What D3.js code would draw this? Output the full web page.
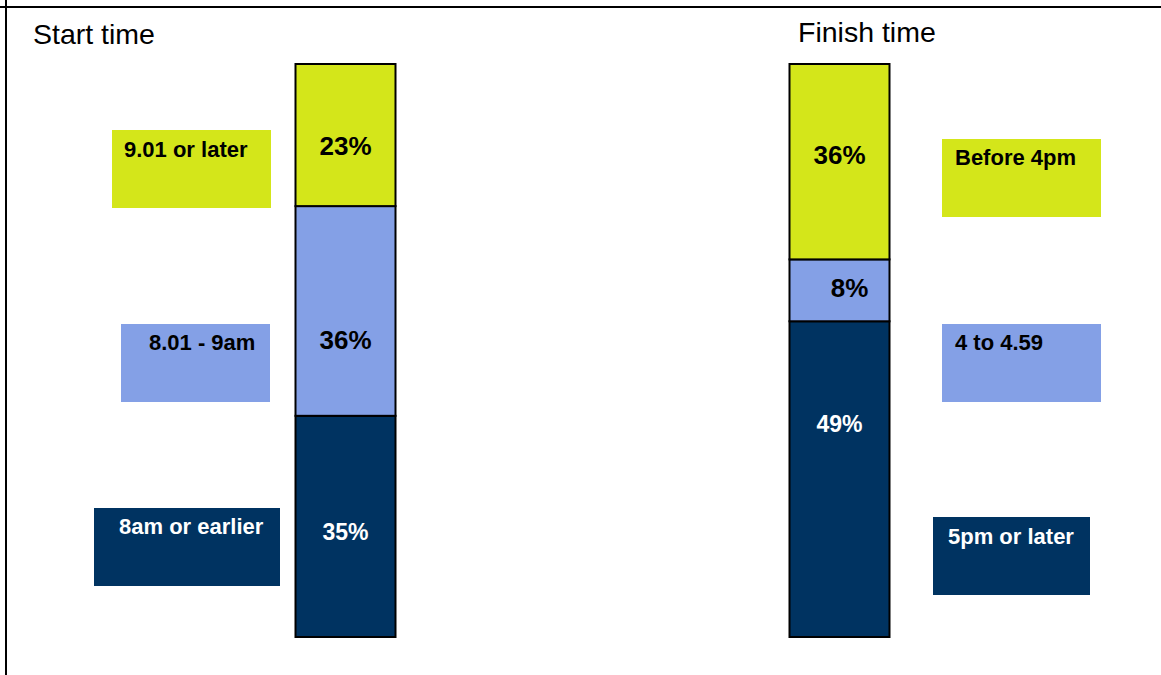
<!DOCTYPE html>
<html>
<head>
<meta charset="utf-8">
<script src="https://cdn.jsdelivr.net/npm/d3@7"></script>
<style>
  html, body { margin: 0; padding: 0; background: #fff; }
  svg { display: block; }
  text { font-family: "Liberation Sans", Arial, sans-serif; }
</style>
</head>
<body>
<svg id="chart" width="1161" height="675"></svg>
<script>
// ---- data ----
const panels = ["Start time", "Finish time"];
const startCategories = ["8am or earlier", "8.01 - 9am", "9.01 or later"];
const finishCategories = ["5pm or later", "4 to 4.59", "Before 4pm"];
const startValues = [35, 36, 23];      // displayed percentages
const finishValues = [49, 8, 36];
const startShares = [38.6, 36.6, 24.8]; // segment sizes as drawn (share of bar)
const finishShares = [55.1, 10.8, 34.1];
const segmentColors = ["#003361", "#84A0E6", "#D4E61A"];
const labelColors = ["#ffffff", "#000000", "#000000"];

// ---- layout ----
const W = 1161, H = 675;
const svg = d3.select("#chart");

// frame lines
svg.append("line").attr("x1", 0).attr("x2", W).attr("y1", 7).attr("y2", 7)
  .attr("stroke", "#000").attr("stroke-width", 2);
svg.append("line").attr("x1", 6).attr("x2", 6).attr("y1", 0).attr("y2", H)
  .attr("stroke", "#000").attr("stroke-width", 2);

const x = d3.scalePoint().domain(panels).range([345.5, 839.5]);
const y = d3.scaleLinear().domain([0, 100]).range([637, 64]);
const barW = 100;

const bars = [
  { panel: "Start time", cats: startCategories, vals: startValues, shares: startShares },
  { panel: "Finish time", cats: finishCategories, vals: finishValues, shares: finishShares }
];

// title positions
const titlePos = { "Start time": [33, 44], "Finish time": [798, 42] };
// label vertical shifts (px) relative to segment centre, label font sizes
const labelShift = { "Start time": [6, 29, 11], "Finish time": [-55, -2, -7] };
const labelDx = { "Start time": [0, 0, 0], "Finish time": [0, 10, 0] };
// legend box layout
const legendBoxes = {
  "Start time": [ {x: 94, y: 508, w: 186, tx: 119, ty: 534},
                  {x: 121, y: 324, w: 149, tx: 149, ty: 350},
                  {x: 112, y: 130, w: 159, tx: 124, ty: 157} ],
  "Finish time": [ {x: 933, y: 517, w: 157, tx: 948, ty: 544},
                   {x: 942, y: 324, w: 159, tx: 955, ty: 350},
                   {x: 942, y: 139, w: 159, tx: 955, ty: 165} ]
};

bars.forEach(b => {
  const stack = d3.stack().keys(b.cats.map((c, i) => i))([b.shares.reduce((o, v, i) => (o[i] = v, o), {})]);
  const g = svg.append("g");

  // title
  g.append("text").attr("x", titlePos[b.panel][0]).attr("y", titlePos[b.panel][1])
    .attr("font-size", 28.5).attr("fill", "#000").text(b.panel);

  // segments
  stack.forEach((s, i) => {
    const y0 = y(s[0][0]), y1 = y(s[0][1]);
    g.append("rect")
      .attr("x", x(b.panel) - barW / 2).attr("y", y1)
      .attr("width", barW).attr("height", y0 - y1)
      .attr("fill", segmentColors[i]).attr("stroke", "#000").attr("stroke-width", 2);
  });
  // labels
  stack.forEach((s, i) => {
    const yc = (y(s[0][0]) + y(s[0][1])) / 2 + labelShift[b.panel][i];
    const white = labelColors[i] === "#ffffff";
    g.append("text")
      .attr("x", x(b.panel) + labelDx[b.panel][i]).attr("y", yc)
      .attr("text-anchor", "middle").attr("dominant-baseline", "central")
      .attr("font-weight", "bold").attr("font-size", white ? 23 : 26)
      .attr("fill", labelColors[i]).text(b.vals[i] + "%");
  });
  // legend boxes
  b.cats.forEach((c, i) => {
    const L = legendBoxes[b.panel][i];
    g.append("rect").attr("x", L.x).attr("y", L.y).attr("width", L.w).attr("height", 78)
      .attr("fill", segmentColors[i]);
    g.append("text").attr("x", L.tx).attr("y", L.ty)
      .attr("font-weight", "bold").attr("font-size", 22)
      .attr("fill", labelColors[i]).text(c);
  });
});
</script>
</body>
</html>
